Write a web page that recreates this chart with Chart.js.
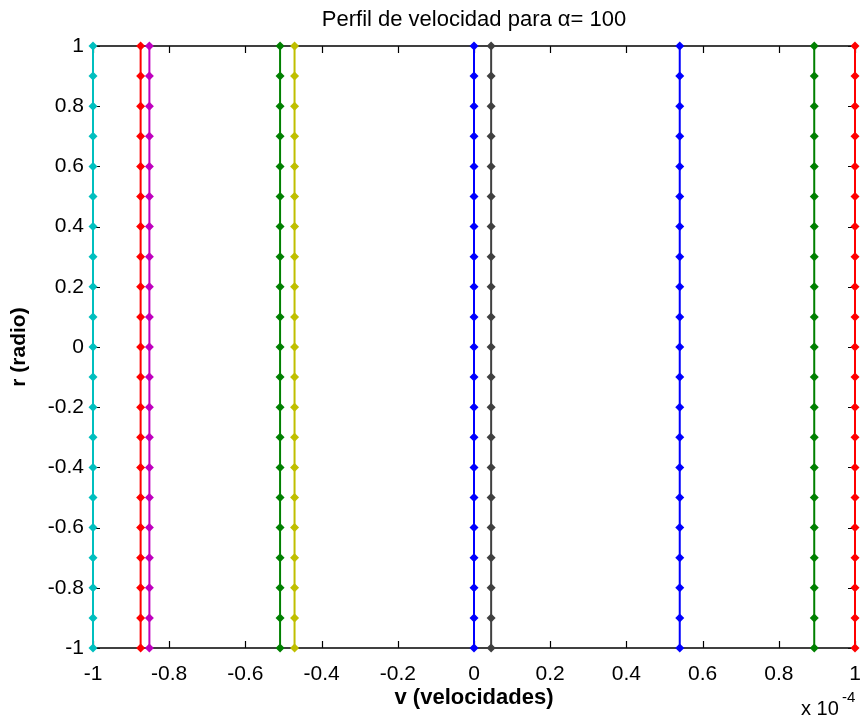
<!DOCTYPE html>
<html><head><meta charset="utf-8">
<script src="https://cdn.jsdelivr.net/npm/chart.js@4"></script>
<style>html,body{margin:0;padding:0;background:#fff}#wrap{width:860px;height:719px;position:relative}</style>
</head><body><div id="wrap"><canvas id="c"></canvas></div>
<script>
// r (radio) sample positions
const radii = [-1, -0.9, -0.8, -0.7, -0.6, -0.5, -0.4, -0.3, -0.2, -0.1, 0, 0.1, 0.2, 0.3, 0.4, 0.5, 0.6, 0.7, 0.8, 0.9, 1];
// velocity of each profile, in units of 1e-4
const velocityProfiles = [-1.0, -0.875, -0.852, -0.509, -0.471, 0.0, 0.045, 0.540, 0.893, 1.0];
const xTickValues = [-1, -0.8, -0.6, -0.4, -0.2, 0, 0.2, 0.4, 0.6, 0.8, 1];
const yTickValues = [-1, -0.8, -0.6, -0.4, -0.2, 0, 0.2, 0.4, 0.6, 0.8, 1];
const seriesColors = ['#00bfbf', '#ff0000', '#bf00bf', '#008000', '#bfbf00', '#0000ff', '#404040', '#0000ff', '#008000', '#ff0000'];

const FONT = "'Liberation Sans', Arial, sans-serif";

const datasets = velocityProfiles.map((v, i) => ({
  label: 'perfil ' + (i + 1),
  data: radii.map(r => ({ x: v, y: r })),
  borderColor: seriesColors[i],
  backgroundColor: seriesColors[i],
  borderWidth: 2,
  pointStyle: 'rectRot',
  pointRadius: 4.5,
  pointBorderWidth: 0,
  showLine: true,
  clip: false
}));

const matlabBox = {
  id: 'matlabBox',
  beforeDatasetsDraw(chart) {
    const { ctx, chartArea: a, scales } = chart;
    ctx.save();
    ctx.strokeStyle = '#000';
    ctx.lineWidth = 1.2;
    const L = 7;
    ctx.beginPath();
    xTickValues.forEach(t => {
      const px = Math.round(scales.x.getPixelForValue(t)) + 0.5;
      ctx.moveTo(px, a.bottom); ctx.lineTo(px, a.bottom - L);
      ctx.moveTo(px, a.top); ctx.lineTo(px, a.top + L);
    });
    yTickValues.forEach(t => {
      const py = Math.round(scales.y.getPixelForValue(t)) + 0.5;
      ctx.moveTo(a.left, py); ctx.lineTo(a.left + L, py);
      ctx.moveTo(a.right, py); ctx.lineTo(a.right - L, py);
    });
    ctx.stroke();
    ctx.lineWidth = 1.6;
    ctx.strokeStyle = '#111';
    ctx.strokeRect(a.left, a.top, a.right - a.left, a.bottom - a.top);
    ctx.restore();
  },
  afterDraw(chart) {
    const { ctx } = chart;
    ctx.save();
    ctx.fillStyle = '#000';
    ctx.textBaseline = 'alphabetic';
    ctx.textAlign = 'left';
    ctx.font = '20px ' + FONT;
    ctx.fillText('x 10', 801, 715);
    ctx.font = '15px ' + FONT;
    ctx.fillText('-4', 842, 702);
    ctx.restore();
  }
};

new Chart(document.getElementById('c'), {
  type: 'scatter',
  data: { datasets },
  options: {
    responsive: true,
    maintainAspectRatio: false,
    animation: false,
    layout: { padding: { left: 0, right: 0, top: 0, bottom: 0 } },
    plugins: {
      legend: { display: false },
      tooltip: { enabled: false },
      title: {
        display: true,
        fullSize: false,
        text: 'Perfil de velocidad para \u03b1= 100',
        color: '#000',
        font: { family: FONT, size: 22, weight: 'normal', lineHeight: 1.2 },
        padding: { top: 7, bottom: 12.6 }
      }
    },
    scales: {
      x: {
        type: 'linear', min: -1, max: 1,
        afterBuildTicks(s) { s.ticks = xTickValues.map(v => ({ value: v })); },
        afterFit(s) { s.height = 71; s.paddingLeft = 0; s.paddingRight = 5; },
        grid: { display: false, drawTicks: false },
        border: { display: false },
        ticks: { color: '#000', padding: 14, maxRotation: 0, autoSkip: false,
          font: { family: FONT, size: 21 }, callback: v => String(Math.round(v * 10) / 10) },
        title: { display: true, text: 'v (velocidades)', color: '#000',
          font: { family: FONT, size: 22, weight: 'bold', lineHeight: 1.2 },
          padding: { top: 0, bottom: 8 } }
      },
      y: {
        type: 'linear', min: -1, max: 1,
        afterBuildTicks(s) { s.ticks = yTickValues.map(v => ({ value: v })); },
        afterFit(s) { s.width = 93; },
        grid: { display: false, drawTicks: false },
        border: { display: false },
        ticks: { color: '#000', padding: 9, autoSkip: false,
          font: { family: FONT, size: 21 }, callback: v => String(Math.round(v * 10) / 10) },
        title: { display: true, text: 'r (radio)', color: '#000',
          font: { family: FONT, size: 21, weight: 'bold', lineHeight: 1.2 },
          padding: { top: 7, bottom: 0 } }
      }
    }
  },
  plugins: [matlabBox]
});
</script></body></html>
